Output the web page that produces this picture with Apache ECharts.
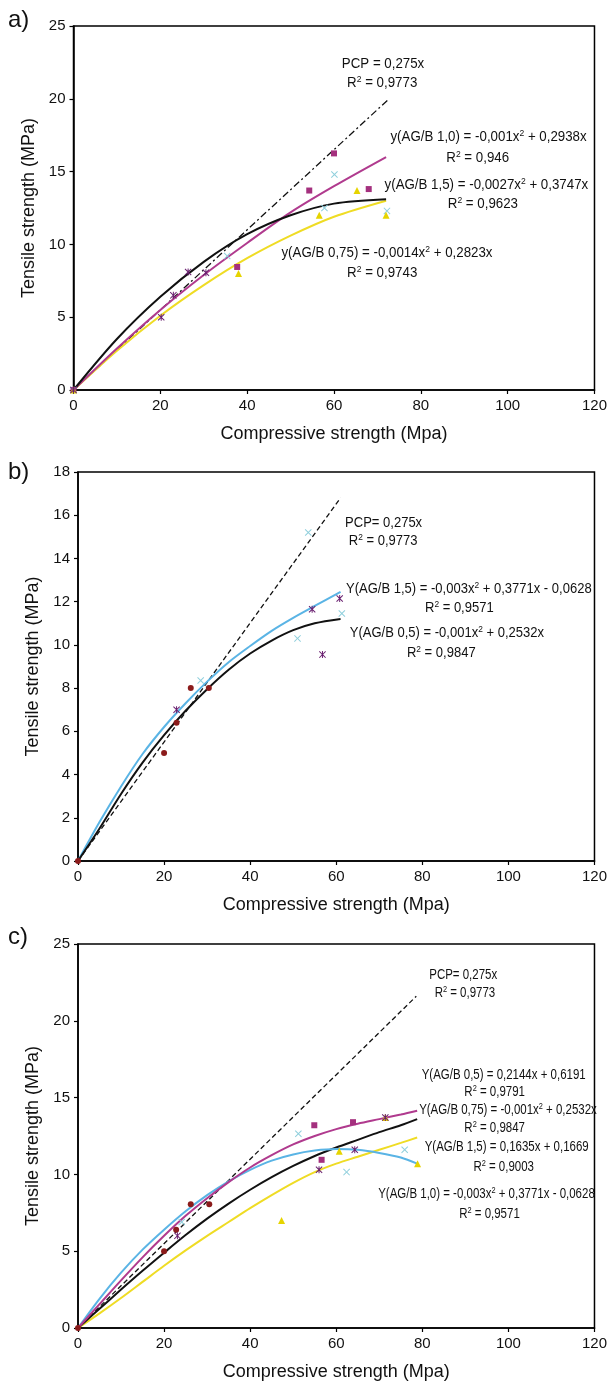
<!DOCTYPE html>
<html><head><meta charset="utf-8">
<script src="https://cdn.jsdelivr.net/npm/echarts@6.0.0/dist/echarts.min.js"></script>
<style>html,body{margin:0;padding:0;background:#fff}#c{width:610px;height:1382px}</style>
</head><body><div id="c"></div>
<script>
// ---------- DATA ----------
const xTicks = [0, 20, 40, 60, 80, 100, 120];
const yTicksA = [0, 5, 10, 15, 20, 25];
const yTicksB = [0, 2, 4, 6, 8, 10, 12, 14, 16, 18];
const yTicksC = [0, 5, 10, 15, 20, 25];
const panelLetters = ['a)', 'b)', 'c)'];
const xTitle = 'Compressive strength (Mpa)';
const yTitle = 'Tensile strength (MPa)';

// Panel a: measured points
const aMagentaPts = [[0,0],[37.7,8.45],[54.3,13.7],[60,16.25],[68,13.8]];
const aCyanPts    = [[0,0],[35.4,9.2],[57.8,12.5],[60.1,14.8],[72.2,12.3]];
const aYellowPts  = [[0,0],[38,8.0],[56.6,12.0],[65.3,13.7],[72,12.0]];
const aPurplePts  = [[0,0],[20.2,5.0],[23,6.5],[26.4,8.1],[30.5,8.05]];
// Panel a: trend curves
const aPCP     = [[0,0],[72.7,20]];
const aMagenta = [[0,0],[10,2.85],[20,5.5],[30,7.9],[40,10.1],[50,12.2],[60,14.0],[72,16.0]];
const aBlack   = [[0,0],[10,3.5],[20,6.4],[30,8.8],[40,10.7],[50,12.0],[60,12.8],[72,13.1]];
const aYellow  = [[0,0],[10,2.7],[20,5.1],[30,7.2],[40,9.05],[50,10.6],[60,11.9],[72,13.0]];
const aNotes = ['PCP = 0,275x','R{s|2} = 0,9773',
  'y(AG/B 1,0) = -0,001x{s|2} + 0,2938x','R{s|2} = 0,946',
  'y(AG/B 1,5) = -0,0027x{s|2} + 0,3747x','R{s|2} = 0,9623',
  'y(AG/B 0,75) = -0,0014x{s|2} + 0,2823x','R{s|2} = 0,9743'];

// Panel b
const bRedPts    = [[0,0],[20,5],[22.9,6.4],[26.2,8],[30.4,8]];
const bPurplePts = [[22.9,7.0],[54.4,11.65],[56.8,9.55],[60.8,12.15]];
const bCyanPts   = [[28.5,8.35],[51,10.3],[53.5,15.2],[61.3,11.45]];
const bPCP   = [[0,0],[61,16.8]];
const bBlue  = [[0,0],[5,1.8],[10,3.45],[15,4.95],[20,6.2],[25,7.3],[30,8.3],[35,9.2],[40,9.95],[45,10.65],[50,11.25],[55,11.8],[61,12.45]];
const bBlack = [[0,0],[5,1.5],[10,3.1],[15,4.55],[20,5.82],[25,6.95],[30,7.95],[35,8.85],[40,9.6],[45,10.2],[50,10.68],[55,11.0],[61,11.2]];
const bNotes = ['PCP= 0,275x','R{s|2} = 0,9773',
  'Y(AG/B 1,5) = -0,003x{s|2} + 0,3771x - 0,0628','R{s|2} = 0,9571',
  'Y(AG/B 0,5) = -0,001x{s|2} + 0,2532x','R{s|2} = 0,9847'];

// Panel c
const cRedPts     = [[0,0],[20,5],[22.8,6.4],[26.2,8.05],[30.5,8.05]];
const cPurplePts  = [[23.1,6.0],[56,10.3],[64.3,11.6],[71.4,13.7]];
const cMagentaPts = [[54.9,13.2],[56.6,10.95],[63.9,13.4]];
const cCyanPts    = [[24.1,6.9],[51.2,12.65],[62.4,10.15],[75.9,11.6]];
const cYellowPts  = [[47.3,7.0],[60.7,11.5],[71.4,13.7],[78.9,10.7]];
const cPCP     = [[0,0],[78.6,21.6]];
const cMagenta = [[0,0],[5,1.55],[10,3.1],[15,4.6],[20,6.0],[25,7.3],[30,8.45],[35,9.5],[40,10.45],[45,11.25],[50,11.95],[55,12.5],[60,12.95],[65,13.3],[70,13.6],[75,13.9],[78.8,14.15]];
const cBlue    = [[0,0],[5,1.9],[10,3.6],[15,5.1],[20,6.4],[25,7.6],[30,8.65],[35,9.55],[40,10.3],[45,10.9],[50,11.3],[55,11.55],[60,11.65],[65,11.6],[70,11.4],[75,11.1],[78.8,10.7]];
const cBlack   = [[0,0],[5,1.25],[10,2.5],[15,3.72],[20,4.9],[25,6.05],[30,7.12],[35,8.1],[40,9.0],[45,9.82],[50,10.55],[55,11.2],[60,11.75],[65,12.25],[70,12.75],[75,13.2],[78.8,13.6]];
const cYellow  = [[0,0],[5,0.95],[10,1.95],[15,3.0],[20,4.05],[25,5.05],[30,6.0],[35,6.9],[40,7.8],[45,8.65],[50,9.45],[55,10.15],[60,10.7],[65,11.15],[70,11.6],[75,12.05],[78.8,12.4]];
const cNotes = ['PCP= 0,275x','R{s|2} = 0,9773',
  'Y(AG/B 0,5) = 0,2144x + 0,6191','R{s|2} = 0,9791',
  'Y(AG/B 0,75) = -0,001x{s|2} + 0,2532x','R{s|2} = 0,9847',
  'Y(AG/B 1,5) = 0,1635x + 0,1669','R{s|2} = 0,9003',
  'Y(AG/B 1,0) = -0,003x{s|2} + 0,3771x - 0,0628','R{s|2} = 0,9571'];

// ---------- LAYOUT / STYLE ----------
const FONT = '"Liberation Sans", Arial, Helvetica, sans-serif';
const COL = {black:'#111111', magenta:'#b03a8e', magentaPt:'#a4307e', cyanLine:'#5ab4e5', cyanPt:'#8fcfdc',
  yellow:'#efdc24', yellowPt:'#e6d400', purple:'#6a2070', red:'#8b1b1b'};
const X_PATH = 'path://M0,1L1,0L5,4L9,0L10,1L6,5L10,9L9,10L5,6L1,10L0,9L4,5Z';
const STAR_PATH = X_PATH + 'M4.3,0L5.7,0L5.7,10L4.3,10Z';

const grids = [
  {left:73.5, top:26, width:522.5, height:364},
  {left:78, top:472, width:517, height:389},
  {left:78, top:944, width:517, height:384}
];
const yMax = [25, 18, 25], yInt = [5, 2, 5];
// annotation anchors in data coordinates of each panel (text centers)
const noteAnchors = [
  [[71.3,22.4],[71.1,21.1],[95.6,17.36],[93.1,15.9],[95.1,14.1],[94.3,12.74],[72.2,9.43],[71.1,8.06]],
  [[71.0,15.65],[70.9,14.82],[90.8,12.57],[88.6,11.69],[85.7,10.54],[84.4,9.62]],
  [[89.5,22.98],[89.9,21.8],[98.9,16.46],[96.8,15.36],[99.9,14.18],[96.8,13.0],[99.6,11.77],[98.9,10.47],[94.9,8.71],[95.6,7.41]]
];
const noteScaleX = [0.95, 0.93, 0.82];
const allNotes = [aNotes, bNotes, cNotes];

function xAxisFor(i){
  return {gridIndex:i, type:'value', min:xTicks[0], max:xTicks[xTicks.length-1], interval:20,
    axisLine:{show:true, onZero:false, lineStyle:{color:'#000', width:1.5}},
    axisTick:{show:true, length:4, lineStyle:{color:'#000', width:1.2}},
    axisLabel:{color:'#111', fontSize:15, margin:8, fontFamily:FONT},
    splitLine:{show:false},
    name:xTitle, nameLocation:'middle', nameGap:35,
    nameTextStyle:{fontSize:18, color:'#111', fontFamily:FONT}};
}
function yAxisFor(i){
  return {gridIndex:i, type:'value', min:0, max:yMax[i], interval:yInt[i],
    axisLine:{show:true, onZero:false, lineStyle:{color:'#000', width:1.5}},
    axisTick:{show:true, length:4, lineStyle:{color:'#000', width:1.2}},
    axisLabel:{color:'#111', fontSize:15, margin:8, fontFamily:FONT},
    splitLine:{show:false},
    name:yTitle, nameLocation:'middle', nameGap:33, nameRotate:90,
    nameTextStyle:{fontSize:18, color:'#111', fontFamily:FONT}};
}
function curve(i, data, color, width, type){
  return {type:'line', xAxisIndex:i, yAxisIndex:i, data:data, smooth: type ? false : 0.3,
    showSymbol:false, symbol:'none', silent:true, z:2,
    lineStyle:{color:color, width:width, type:type || 'solid'}};
}
function pts(i, data, symbol, size, color){
  return {type:'scatter', xAxisIndex:i, yAxisIndex:i, data:data, symbol:symbol, symbolSize:size,
    silent:true, z:4, itemStyle:{color:color, opacity:1}};
}

const series = [
  curve(0, aPCP, COL.black, 1.3, [7,3,2,3]),
  curve(0, aYellow, COL.yellow, 2),
  curve(0, aMagenta, COL.magenta, 2),
  curve(0, aBlack, COL.black, 2),
  pts(0, aMagentaPts, 'rect', 6, COL.magentaPt),
  pts(0, aCyanPts, X_PATH, 7, COL.cyanPt),
  pts(0, aYellowPts, 'triangle', 7, COL.yellowPt),
  pts(0, aPurplePts, STAR_PATH, 7, COL.purple),

  curve(1, bPCP, COL.black, 1.3, [5,3]),
  curve(1, bBlue, COL.cyanLine, 2),
  curve(1, bBlack, COL.black, 2),
  pts(1, bRedPts, 'circle', 6, COL.red),
  pts(1, bPurplePts, STAR_PATH, 7, COL.purple),
  pts(1, bCyanPts, X_PATH, 7, COL.cyanPt),

  curve(2, cPCP, COL.black, 1.3, [5,3]),
  curve(2, cYellow, COL.yellow, 2),
  curve(2, cBlack, COL.black, 2),
  curve(2, cBlue, COL.cyanLine, 2),
  curve(2, cMagenta, COL.magenta, 2),
  pts(2, cRedPts, 'circle', 6, COL.red),
  pts(2, cMagentaPts, 'rect', 6, COL.magentaPt),
  pts(2, cCyanPts, X_PATH, 7, COL.cyanPt),
  pts(2, cYellowPts, 'triangle', 7, COL.yellowPt),
  pts(2, cPurplePts, STAR_PATH, 7, COL.purple)
];

const chart = echarts.init(document.getElementById('c'), null, {renderer:'canvas'});
chart.setOption({
  backgroundColor:'#fff',
  animation:false,
  grid: grids.map(g => Object.assign({show:true, borderColor:'#000', borderWidth:1.5, backgroundColor:'transparent'}, g)),
  xAxis: [0,1,2].map(xAxisFor),
  yAxis: [0,1,2].map(yAxisFor),
  series: series
});

// annotations
const graphics = [];
const letterPos = [[8,20],[8,472],[8,937]];
panelLetters.forEach((t, i) => {
  graphics.push({type:'text', x:letterPos[i][0], y:letterPos[i][1], silent:true,
    style:{text:t, fontSize:24, fontFamily:FONT, fill:'#111', align:'left', textAlign:'left',
      verticalAlign:'middle', textVerticalAlign:'middle'}});
});
allNotes.forEach((notes, i) => {
  notes.forEach((t, k) => {
    const p = chart.convertToPixel({gridIndex:i}, noteAnchors[i][k]);
    graphics.push({type:'text', x:p[0], y:p[1], scaleX:noteScaleX[i], silent:true,
      style:{text:t, fontSize:14, fontFamily:FONT, fill:'#111',
        align:'center', textAlign:'center', verticalAlign:'middle', textVerticalAlign:'middle',
        lineHeight:16,
        rich:{s:{fontSize:9, fontFamily:FONT, fill:'#111', verticalAlign:'top', lineHeight:9}}}});
  });
});
chart.setOption({graphic: graphics});
</script></body></html>
